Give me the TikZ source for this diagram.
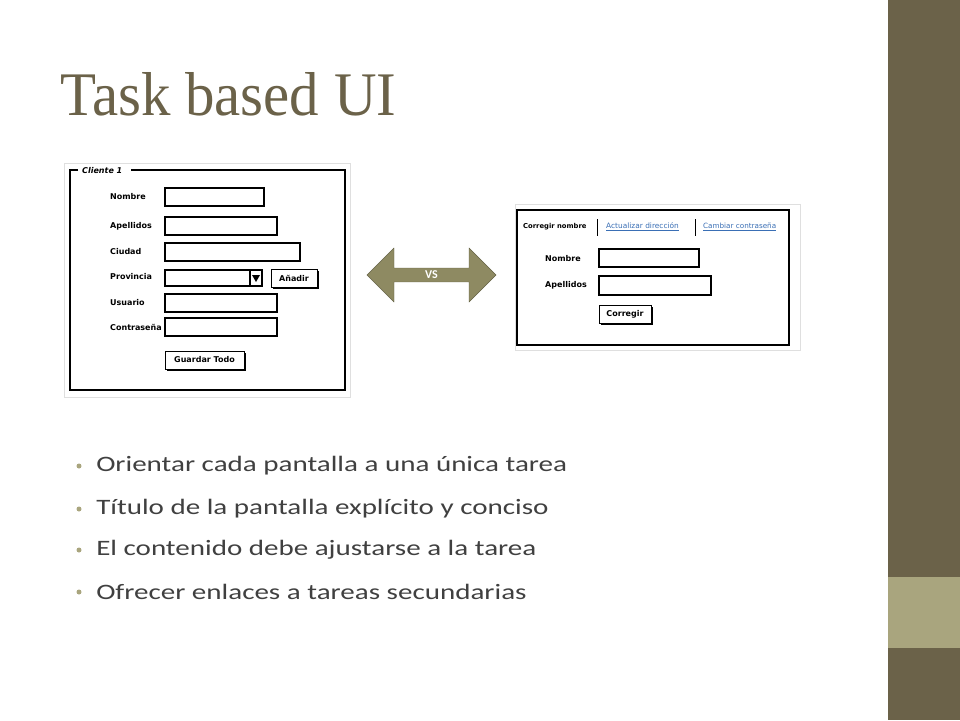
\documentclass[tikz,border=0pt]{standalone}
\usepackage{fontspec}
\setmainfont{Carlito}
\newfontfamily\sk{DejaVu Sans}
\newfontfamily\ttl{Liberation Serif}
\usetikzlibrary{shapes.arrows}
\definecolor{olive}{HTML}{6B6249}
\definecolor{lolive}{HTML}{A9A57E}
\definecolor{arr}{HTML}{8E8A62}
\definecolor{txt}{HTML}{404040}
\definecolor{lnk}{HTML}{3A6FB5}
\begin{document}
\begin{tikzpicture}[x=1pt,y=-1pt,
  fld/.style={draw=black,line width=1.2pt},
  btn/.style={draw=black,line width=1pt,fill=white,font=\sk\fontsize{8}{9}\selectfont\bfseries,inner sep=0pt},
  lab/.style={anchor=west,font=\sk\fontsize{8}{9}\selectfont\bfseries,inner sep=0pt},
  bul/.style={anchor=west,font=\fontsize{22}{26}\selectfont,text=txt,inner sep=0pt},
  dot/.style={circle,fill=lolive,inner sep=0pt,minimum size=5pt}]
\fill[white!96!black] (0,0) rectangle (960,720);
\fill[white] (0,0) rectangle (888,720);
\fill[olive] (888,0) rectangle (960,720);
\fill[lolive] (888,577) rectangle (960,648);
\node[anchor=base west,font=\ttl\fontsize{62}{68}\selectfont,text=olive,inner sep=0pt,xscale=0.95,transform shape] (title) at (60,115) {Task based UI};
% left mockup
\draw[gray!25] (64,163) rectangle (350,397);
\draw[line width=1.3pt] (78,170) -- (70,170) -- (70,390) -- (345,390) -- (345,170) -- (131,170);
\node[lab,font=\sk\fontsize{8}{9}\selectfont\bfseries\itshape] (cl) at (82,171) {Cliente 1};
\foreach \n/\t/\y/\e in {a/Nombre/197/264,b/Apellidos/226/277,c/Ciudad/252/300,e/Usuario/303/277,f/Contraseña/327/277}{
  \node[lab] (l\n) at (110,\y) {\t};
  \draw[fld] (165,\y-9) rectangle (\e,\y+9);
}
\node[lab] (ld) at (110,277) {Provincia};
\draw[fld] (165,270) rectangle (262,286);
\draw[fld] (250,270) -- (250,286);
\fill (252,275) -- (260,275) -- (256,282) -- cycle;
\fill (273,271) rectangle (319,289);
\node[btn,minimum width=46pt,minimum height=18pt] (anad) at (294,278) {Añadir};
\fill (167,353) rectangle (246,371);
\node[btn,minimum width=79pt,minimum height=18pt] (guar) at (204.5,360) {Guardar Todo};
% arrow
\node[double arrow,double arrow head extend=12pt,fill=arr,draw=arr!70!black,minimum height=129pt,minimum width=54pt,inner sep=0pt,text=white,font=\fontsize{12}{14}\selectfont\bfseries] (vs) at (431.5,275) {VS};
% right mockup
\draw[gray!25] (515,204) rectangle (800,350);
\draw[line width=1.3pt] (517,210) rectangle (789,345);
\node[lab,font=\sk\fontsize{6.8}{8}\selectfont\bfseries] (t1) at (523,227) {Corregir nombre};
\draw[line width=1pt] (597,219) -- (597,236);
\node[lab,font=\sk\fontsize{7.4}{8}\selectfont,text=lnk] (t2) at (606,227) {\underline{Actualizar dirección}};
\draw[line width=1pt] (695,219) -- (695,236);
\node[lab,font=\sk\fontsize{7.2}{8}\selectfont,text=lnk] (t3) at (703,227) {\underline{Cambiar contraseña}};
\node[lab] (rn) at (545,259) {Nombre};
\draw[fld] (599,249) rectangle (699,267);
\node[lab] (ra) at (545,285) {Apellidos};
\draw[fld] (599,276) rectangle (711,295);
\fill (601,307) rectangle (653,325);
\node[btn,minimum width=52pt,minimum height=18pt] (corr) at (625,314) {Corregir};
% bullets
\foreach \i/\y/\t in {1/466/Orientar cada pantalla a una única tarea,2/509/Título de la pantalla explícito y conciso,3/550/El contenido debe ajustarse a la tarea,4/592/Ofrecer enlaces a tareas secundarias}{
  \node[dot] (d\i) at (79,\y) {};
  \node[bul,xscale=1.32,transform shape] (b\i) at (96,\y) {\t};
}
\end{tikzpicture}
\end{document}
